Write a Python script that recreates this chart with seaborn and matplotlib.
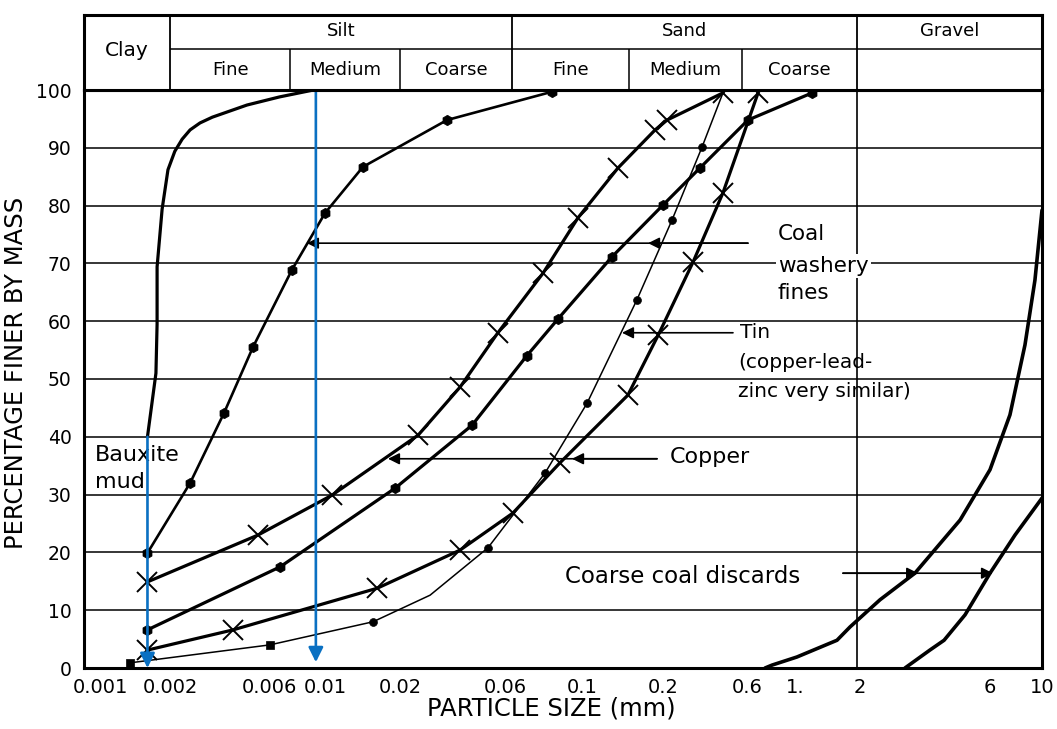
import numpy as np
import pandas as pd
import matplotlib
matplotlib.use("Agg")
import matplotlib.pyplot as plt
import seaborn as sns

# ---------------- data ----------------
x_ticks = [0.001, 0.002, 0.006, 0.01, 0.02, 0.06, 0.1, 0.2, 0.6, 1, 2, 6, 10]
x_tick_labels = ["0.001", "0.002", "0.006", "0.01", "0.02", "0.06", "0.1", "0.2",
                 "0.6", "1.", "2", "6", "10"]
y_ticks = [0, 10, 20, 30, 40, 50, 60, 70, 80, 90, 100]

# size-class header
class_bounds = [0.002, 0.063, 1.93]          # Clay|Silt, Silt|Sand, Sand|Gravel
sub_bounds = [0.0073, 0.02, 0.15, 0.56]      # Fine|Medium|Coarse inside Silt and Sand
class_names = ["Clay", "Silt", "Sand", "Gravel"]
sub_names = ["Fine", "Medium", "Coarse", "Fine", "Medium", "Coarse"]
sub_edges = [0.002, 0.0073, 0.02, 0.063, 0.15, 0.56, 1.93]

# curves (particle size in mm, percentage finer by mass)
bauxite_x = [0.0016, 0.00174, 0.00176, 0.00176, 0.00185, 0.00196, 0.00211, 0.00229, 0.0025,
             0.00279, 0.0032, 0.0047, 0.0066, 0.009]
bauxite_y = [40, 51, 59.5, 69.4, 79.4, 86.2, 89.4, 91.5, 93.1, 94.3, 95.3, 97.4, 98.8, 100]

coal_fines_x = [0.0016, 0.0025, 0.00364, 0.00502, 0.0074, 0.0100, 0.0142, 0.0327, 0.082]
coal_fines_y = [19.9, 32.0, 44.1, 55.5, 68.9, 78.7, 86.7, 94.8, 99.7]

copper_a_x = [0.0016, 0.00531, 0.01067, 0.0242, 0.0375, 0.0557, 0.0772, 0.0974, 0.136, 0.187, 0.211, 0.438]
copper_a_y = [14.9, 23.0, 29.9, 40.3, 48.6, 58.0, 68.3, 77.9, 86.5, 93.1, 94.8, 99.5]

coal_b_x = [0.0016, 0.00664, 0.0191, 0.0425, 0.0693, 0.0853, 0.129, 0.200, 0.324, 0.606, 1.20]
coal_b_y = [6.6, 17.5, 31.1, 42.0, 54.0, 60.4, 71.1, 80.1, 86.5, 94.8, 99.5]

copper_c_x = [0.0016, 0.00403, 0.0162, 0.0375, 0.0632, 0.0864, 0.148, 0.192, 0.296, 0.438, 0.675]
copper_c_y = [3.1, 6.6, 13.8, 20.4, 26.8, 35.5, 47.2, 57.6, 70.2, 82.2, 99.5]

tin_x = [0.00135, 0.00605, 0.0156, 0.0274, 0.0502, 0.0782, 0.1044, 0.160, 0.225, 0.333, 0.438]
tin_y = [0.9, 4.0, 8.0, 12.6, 20.8, 33.7, 45.8, 63.7, 77.5, 90.1, 99.5]
tin_marks = ["s", "s", "o", "", "o", "o", "o", "o", "o", "o", ""]

coarse1_x = [0.727, 0.783, 1.02, 1.565, 1.798, 2.368, 3.18, 4.66, 6.0, 7.30, 8.46, 9.33, 10]
coarse1_y = [0, 0.5, 1.9, 4.8, 7.1, 11.8, 16.4, 25.6, 34.3, 43.8, 55.9, 67.1, 79.2]

coarse2_x = [2.925, 3.61, 4.07, 4.86, 6.0, 7.67, 10]
coarse2_y = [0, 3.1, 4.8, 9.2, 16.4, 23.0, 29.4]

# annotations
coal_text = ["Coal", "washery", "fines"]
coal_text_x = 0.834
coal_text_y = [75.1, 69.6, 64.9]
coal_arrow = (0.606, 73.5, [0.176, 0.00848])

tin_text = ["Tin", "(copper-lead-", "zinc very similar)"]
tin_text_x = [0.545, 0.533, 0.533]
tin_text_y = [58.1, 52.9, 47.8]
tin_arrow = (0.4995, 58.0, [0.1408])

copper_text = "Copper"
copper_text_xy = (0.219, 36.5)
copper_arrow = (0.190, 36.2, [0.0936, 0.0179])

coarse_text = "Coarse coal discards"
coarse_text_xy = (0.0894, 15.9)
coarse_arrow = (1.668, 16.4, [3.27, 6.18])

bauxite_text = ["Bauxite", "mud"]
bauxite_text_x = 0.00095
bauxite_text_y = [36.9, 32.2]

blue_x = [0.0016, 0.0092]
blue_from = [40, 100]
blue_to = [0, 1]

# ---------------- layout: the reference's (non-uniform) printed log axis ----------------
scale_vals = [1e-6, 0.001, 0.002, 0.006, 0.01, 0.02, 0.06, 0.1, 0.2, 0.6, 1, 2, 6, 10, 1e4]
scale_px = [-597.8, 100, 170, 269, 325, 400, 505, 582, 663, 747, 795, 860, 990, 1042, 1744.6]
_L = np.log10(scale_vals)


def fwd(x):
    x = np.asarray(x, dtype=float)
    return np.interp(np.log10(np.clip(x, 1e-12, None)), _L, scale_px)


def inv(p):
    p = np.asarray(p, dtype=float)
    return 10 ** np.interp(p, scale_px, _L)


sns.set_theme(style="white")
plt.rcParams["font.family"] = ["DejaVu Sans"]
plt.rcParams["text.color"] = "black"
plt.rcParams["axes.labelcolor"] = "black"
plt.rcParams["xtick.color"] = "black"
plt.rcParams["ytick.color"] = "black"

W, H = 1057, 729
fig = plt.figure(figsize=(W / 100, H / 100), dpi=100)
fig.patch.set_facecolor("white")
ax = fig.add_axes([84 / W, (H - 668) / H, 958 / W, 578 / H])
hax = fig.add_axes([84 / W, (H - 90) / H, 958 / W, 75 / H], sharex=ax)
for a in (ax, hax):
    a.set_xscale("function", functions=(fwd, inv))
xmin = float(inv(84))
ax.set_xlim(xmin, 10)
ax.set_ylim(0, 100)

# grid & frame
for yv in y_ticks[1:-1]:
    ax.axhline(yv, color="black", lw=1.1, zorder=1)
ax.axvline(class_bounds[-1], color="black", lw=1.2, zorder=1)
for s in ax.spines.values():
    s.set_color("black")
    s.set_linewidth(2.2)

ax.set_xticks(x_ticks)
ax.set_xticklabels(x_tick_labels)
ax.xaxis.set_minor_locator(matplotlib.ticker.NullLocator())
ax.set_yticks(y_ticks)
ax.tick_params(axis="x", direction="in", length=11, width=1.0, pad=7, labelsize=14, top=False)
ax.tick_params(axis="y", length=0, pad=9, labelsize=13.5)
ax.set_xlabel("PARTICLE SIZE (mm)", fontsize=17.5)
ax.set_ylabel("PERCENTAGE FINER BY MASS", fontsize=17.5)
ax.xaxis.set_label_coords((551 - 84) / 958, -0.050)
ax.yaxis.set_label_coords(-0.058, 0.51)

# curves
thick = 2.3
sns.lineplot(x=bauxite_x, y=bauxite_y, ax=ax, color="black", lw=thick, sort=False, estimator=None, zorder=3)
sns.lineplot(x=coal_fines_x, y=coal_fines_y, ax=ax, color="black", lw=1.9, sort=False, estimator=None,
             marker="h", markersize=7.5, markeredgecolor="black", markeredgewidth=0.5, zorder=3)
sns.lineplot(x=copper_a_x, y=copper_a_y, ax=ax, color="black", lw=thick, sort=False, estimator=None,
             marker="x", markersize=15, markeredgecolor="black", markeredgewidth=1.4, zorder=3)
sns.lineplot(x=coal_b_x, y=coal_b_y, ax=ax, color="black", lw=thick, sort=False, estimator=None,
             marker="h", markersize=7.5, markeredgecolor="black", markeredgewidth=0.5, zorder=3)
sns.lineplot(x=copper_c_x, y=copper_c_y, ax=ax, color="black", lw=thick, sort=False, estimator=None,
             marker="x", markersize=15, markeredgecolor="black", markeredgewidth=1.4, zorder=3)
sns.lineplot(x=tin_x, y=tin_y, ax=ax, color="black", lw=1.1, sort=False, estimator=None, zorder=3)
tin_df = pd.DataFrame({"x": tin_x, "y": tin_y, "m": tin_marks})
for m, sz in (("s", 40), ("o", 32)):
    sub = tin_df[tin_df["m"] == m]
    sns.scatterplot(data=sub, x="x", y="y", ax=ax, marker=m, s=sz, color="black",
                    edgecolor="black", linewidth=0.5, zorder=4, legend=False)
sns.lineplot(x=coarse1_x, y=coarse1_y, ax=ax, color="black", lw=2.6, sort=False, estimator=None, zorder=3)
sns.lineplot(x=coarse2_x, y=coarse2_y, ax=ax, color="black", lw=2.6, sort=False, estimator=None, zorder=3)


# annotation arrows
def arrows(spec):
    x0, yv, tips = spec
    for t in tips:
        ax.annotate("", xy=(t, yv), xytext=(x0, yv),
                    arrowprops=dict(arrowstyle="-|>", color="black", lw=1.2,
                                    mutation_scale=17, shrinkA=0, shrinkB=0), zorder=5)


for spec in (coal_arrow, tin_arrow, copper_arrow, coarse_arrow):
    arrows(spec)

lab_fs = 15.5
for t, yv in zip(coal_text, coal_text_y):
    ax.text(coal_text_x, yv, t, fontsize=lab_fs, ha="left", va="center", zorder=6,
            bbox=dict(facecolor="white", edgecolor="none", pad=1.5))
for t, xv, yv in zip(tin_text, tin_text_x, tin_text_y):
    ax.text(xv, yv, t, fontsize=14.5, ha="left", va="center", zorder=6)
ax.text(*copper_text_xy, copper_text, fontsize=16, ha="left", va="center", zorder=6)
ax.text(*coarse_text_xy, coarse_text, fontsize=16.5, ha="left", va="center", zorder=6)
for t, yv in zip(bauxite_text, bauxite_text_y):
    ax.text(bauxite_text_x, yv, t, fontsize=16, ha="left", va="center", zorder=6)

# blue overlay arrows
for bx, y0, y1 in zip(blue_x, blue_from, blue_to):
    ax.annotate("", xy=(bx, y1), xytext=(bx, y0), annotation_clip=False,
                arrowprops=dict(arrowstyle="-|>", color="#0a70c2", lw=1.9,
                                mutation_scale=22, shrinkA=0, shrinkB=0), zorder=7)

# header table
row_split = 0.55
hax.set_ylim(0, 1)
hax.set_xlim(xmin, 10)
hax.tick_params(axis="both", length=0, labelbottom=False, labelleft=False)
hax.set_yticks([])
for s in hax.spines.values():
    s.set_color("black")
    s.set_linewidth(2.2)
hax.vlines(class_bounds, 0, 1, color="black", lw=1.3)
hax.vlines(sub_bounds, 0, row_split, color="black", lw=1.1)
hax.hlines(row_split, class_bounds[0], 10, color="black", lw=1.1)


def mid(a, b):
    return float(inv((fwd(a) + fwd(b)) / 2))


top_edges = [xmin] + class_bounds + [10]
hax.text(mid(top_edges[0], top_edges[1]), 0.52, class_names[0], ha="center", va="center", fontsize=14.5)
for i in range(1, 4):
    hax.text(mid(top_edges[i], top_edges[i + 1]), 0.78, class_names[i], ha="center", va="center", fontsize=13)
for i, name in enumerate(sub_names):
    hax.text(mid(sub_edges[i], sub_edges[i + 1]), 0.27, name, ha="center", va="center", fontsize=13)

fig.savefig("out.png", dpi=100, facecolor="white")
